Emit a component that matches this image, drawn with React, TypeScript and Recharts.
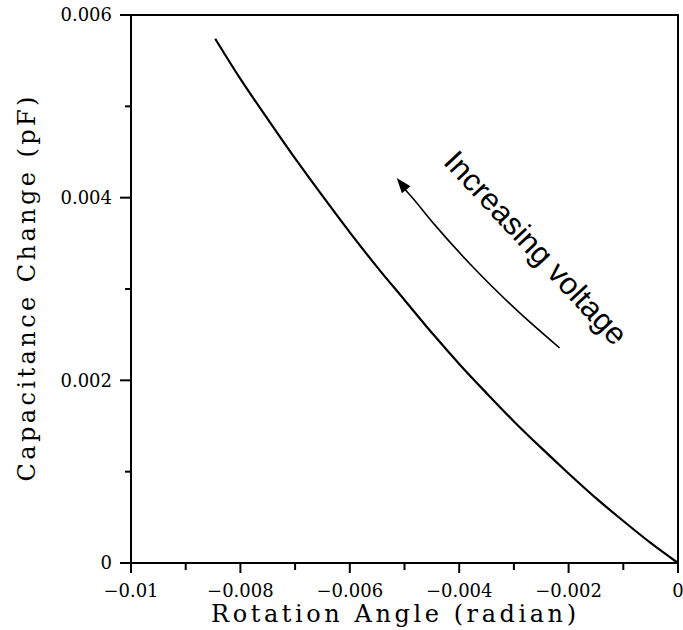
import React from 'react';
import { LineChart, Line, XAxis, YAxis, ReferenceArea, ReferenceDot, Label } from 'recharts';

// Main curve: rotation angle (radian) vs capacitance change (pF)
const angle = [-0.00846, -0.008, -0.0075, -0.007, -0.0065, -0.006, -0.0055, -0.005, -0.0045, -0.004, -0.0035, -0.003, -0.0025, -0.002, -0.0015, -0.001, -0.0005, 0];
const capChange = [0.00574, 0.0053, 0.00486, 0.00443, 0.00402, 0.00362, 0.00324, 0.00288, 0.00252, 0.00218, 0.00186, 0.00155, 0.00126, 0.00098, 0.00071, 0.00046, 0.00022, 0];

// Annotation arrow path (data coordinates)
const arrowX = [-0.005014, -0.004875, -0.004462, -0.00374, -0.002973, -0.002164];
const arrowY = [0.004106, 0.004012, 0.003713, 0.003235, 0.002782, 0.002354];
const arrowTip = { x: -0.005142, y: 0.004215 };
const annotationPos = { x: -0.0026, y: 0.00345 };
const annotationText = 'Increasing voltage';

// Axes
const xTicks = [-0.01, -0.009, -0.008, -0.007, -0.006, -0.005, -0.004, -0.003, -0.002, -0.001, 0];
const xTickLabels = ['\u22120.01', '\u22120.008', '\u22120.006', '\u22120.004', '\u22120.002', '0'];
const yTicks = [0, 0.001, 0.002, 0.003, 0.004, 0.005, 0.006];
const yTickLabels = ['0', '0.002', '0.004', '0.006'];
const xTitle = 'Rotation Angle (radian)';
const yTitle = 'Capacitance Change (pF)';

const curveData = angle.map((x, i) => ({ x, y: capChange[i] }));
const arrowData = arrowX.map((x, i) => ({ x, y: arrowY[i] }));

const SERIF = '"DejaVu Serif", "Liberation Serif", serif';

const findIdx = (arr: number[], v: number) => arr.findIndex((a) => Math.abs(a - v) < 1e-9);

const XTick = (props: any) => {
  const { x, y, payload } = props;
  const i = findIdx(xTicks, payload.value);
  const major = i % 2 === 0;
  return (
    <g>
      <line x1={x} y1={y} x2={x} y2={y + (major ? 10 : 7)} stroke="#000" strokeWidth={2} />
      {major && (
        <text x={x} y={y + 34} textAnchor="middle" fontFamily={SERIF} fontSize={18} fill="#000">
          {xTickLabels[i / 2]}
        </text>
      )}
    </g>
  );
};

const YTick = (props: any) => {
  const { x, y, payload } = props;
  const i = findIdx(yTicks, payload.value);
  const major = i % 2 === 0;
  return (
    <g>
      <line x1={x - (major ? 11 : 6)} y1={y} x2={x} y2={y} stroke="#000" strokeWidth={2} />
      {major && (
        <text x={x - 19} y={y} dy="0.36em" textAnchor="end" fontFamily={SERIF} fontSize={18} fill="#000">
          {yTickLabels[i / 2]}
        </text>
      )}
    </g>
  );
};

const XTitle = (props: any) => {
  const vb = props.viewBox || { x: 131, y: 563, width: 547, height: 67 };
  const cx = vb.x + vb.width / 2 - 11;
  return (
    <text x={cx} y={vb.y + 59} textAnchor="middle" fontFamily={SERIF} fontSize={24} fill="#000"
      textLength={365} lengthAdjust="spacing">
      {xTitle}
    </text>
  );
};

const YTitle = (props: any) => {
  const vb = props.viewBox || { x: 0, y: 15, width: 131, height: 548 };
  const cy = vb.y + vb.height / 2;
  const cx = 35;
  return (
    <text x={cx} y={cy} transform={`rotate(-90 ${cx} ${cy})`} textAnchor="middle" fontFamily={SERIF}
      fontSize={24} fill="#000" textLength={385} lengthAdjust="spacing">
      {yTitle}
    </text>
  );
};

const ArrowHead = (p: any) => {
  const { cx, cy } = p;
  if (cx == null || cy == null) return <g />;
  return (
    <polygon points="0,0 -15,-5.5 -15,5.5" fill="#000"
      transform={`translate(${cx} ${cy}) rotate(-129)`} />
  );
};

const AnnotationText = (p: any) => {
  const { cx, cy } = p;
  if (cx == null || cy == null) return <g />;
  return (
    <text x={cx} y={cy} transform={`rotate(47 ${cx} ${cy})`} textAnchor="middle" dominantBaseline="central"
      fontFamily='"Liberation Sans", Arial, sans-serif' fontSize={31} fill="#000">
      {annotationText}
    </text>
  );
};

export default function App() {
  return (
    <div style={{ position: 'absolute', left: 0, top: 0, background: '#fff' }}>
      <LineChart width={683} height={630} margin={{ top: 15, right: 5, bottom: 0, left: 0 }}>
        <XAxis dataKey="x" type="number" domain={[-0.01, 0]} ticks={xTicks} interval={0}
          axisLine={false} tickLine={false} tickSize={0} tickMargin={0} height={67} tick={<XTick />}>
          <Label content={<XTitle />} position="bottom" />
        </XAxis>
        <YAxis dataKey="y" type="number" domain={[0, 0.006]} ticks={yTicks} interval={0}
          axisLine={false} tickLine={false} tickSize={0} tickMargin={0} width={131} tick={<YTick />}>
          <Label content={<YTitle />} position="left" />
        </YAxis>
        <ReferenceArea x1={-0.01} x2={0} y1={0} y2={0.006} fill="none" stroke="#000" strokeWidth={2} fillOpacity={0} />
        <Line data={curveData} dataKey="y" type="monotone" stroke="#000" strokeWidth={2.2} dot={false}
          isAnimationActive={false} />
        <Line data={arrowData} dataKey="y" type="monotone" stroke="#000" strokeWidth={1.6} dot={false}
          isAnimationActive={false} />
        <ReferenceDot x={arrowTip.x} y={arrowTip.y} r={1} shape={<ArrowHead />} />
        <ReferenceDot x={annotationPos.x} y={annotationPos.y} r={1} shape={<AnnotationText />} />
      </LineChart>
    </div>
  );
}
